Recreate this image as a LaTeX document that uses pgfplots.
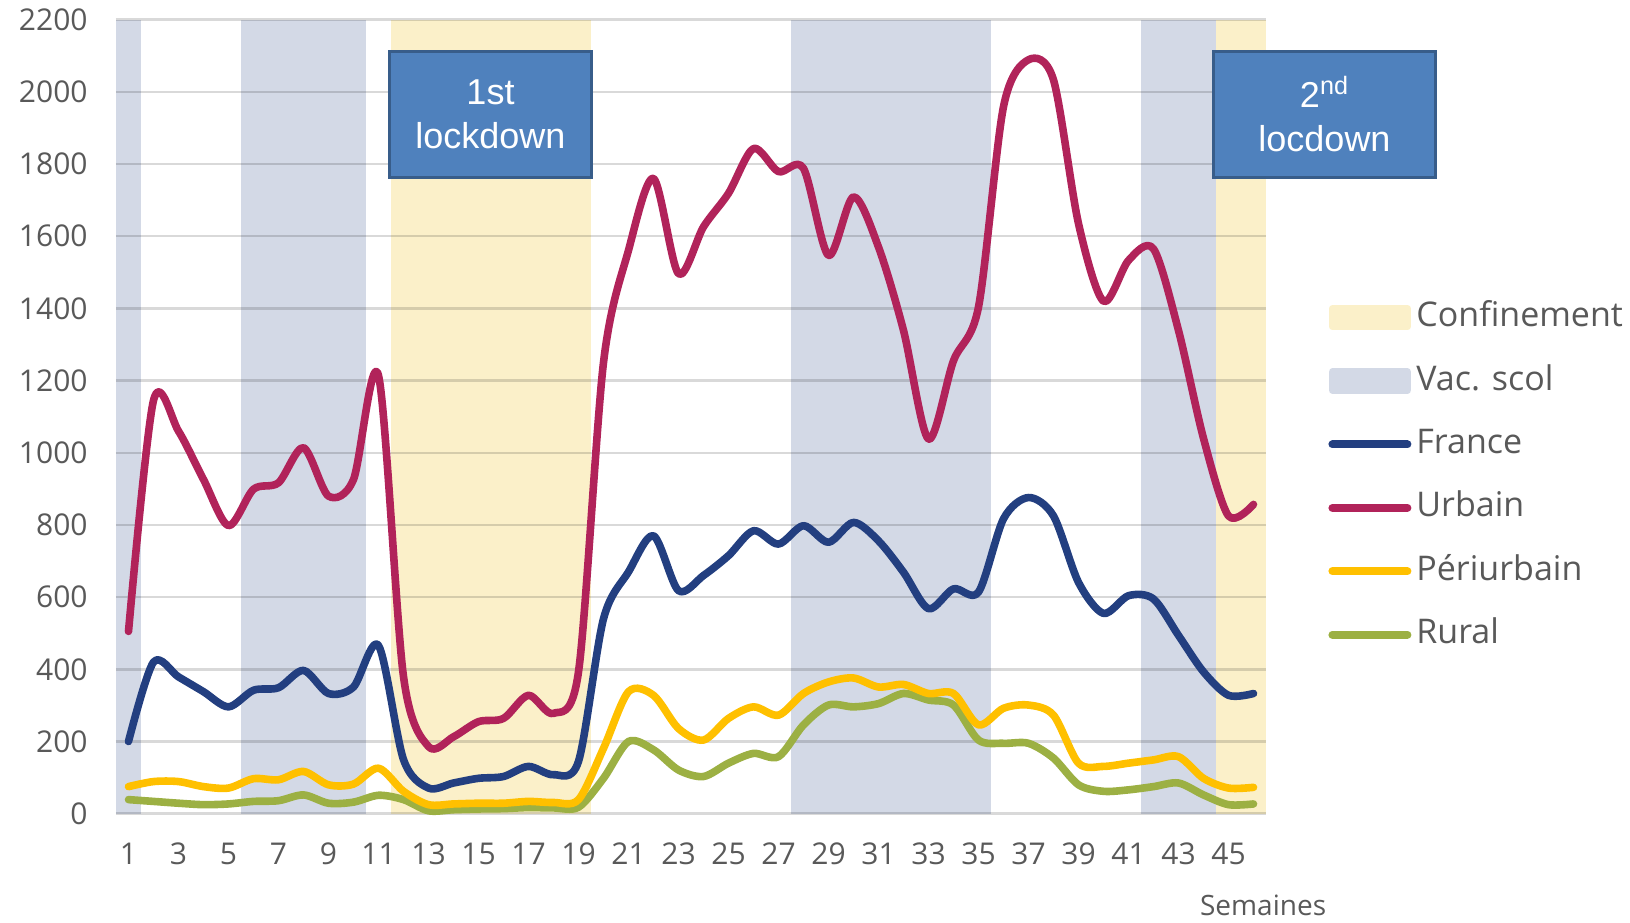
\documentclass[border=0pt]{standalone}
\usepackage{pgfplots}
\pgfplotsset{compat=1.18}
\usepackage{pgfplotstable}
\usepackage{fontspec}
\setmainfont{Open Sans}
\newfontfamily\boxfont{Liberation Sans}

\definecolor{txt}{HTML}{595959}
\definecolor{france}{HTML}{233F80}
\definecolor{urbain}{HTML}{B1235A}
\definecolor{peri}{HTML}{FFC000}
\definecolor{rural}{HTML}{9CB043}
\definecolor{conf}{HTML}{FBF0C9}
\definecolor{vac}{HTML}{D3D9E6}
\definecolor{boxfill}{HTML}{4F81BD}
\definecolor{boxline}{HTML}{385D8A}

\pgfplotstableread{
week france urbain peri rural
1 200 505 75 39
2 420 1145 89 34
3 379 1060 89 29
4 338 926 75 25
5 296 798 71 27
6 342 899 97 34
7 349 917 94 36
8 397 1014 117 52
9 333 880 80 29
10 351 926 82 32
11 466 1214 126 51
12 150 380 62 39
13 71 186 25 8
14 85 213 27 11
15 98 255 29 13
16 103 264 29 14
17 131 328 34 17
18 108 278 31 16
19 145 393 39 18
20 540 1250 181 98
21 670 1561 338 200
22 770 1760 328 177
23 618 1496 236 121
24 660 1626 204 103
25 715 1719 264 140
26 784 1843 296 167
27 747 1779 273 158
28 798 1788 333 246
29 752 1547 365 301
30 807 1709 376 296
31 756 1570 351 305
32 669 1339 358 333
33 568 1038 333 315
34 623 1255 333 301
35 614 1404 246 204
36 817 1959 292 195
37 876 2089 301 195
38 825 2033 273 154
39 641 1635 140 80
40 555 1420 131 62
41 604 1533 140 66
42 595 1565 149 75
43 494 1339 158 85
44 393 1040 98 52
45 328 825 71 25
46 333 857 73 27
}\weekly

\begin{document}
\begin{tikzpicture}
\path (-58pt,-53.5pt) rectangle (757pt,406.85pt);
\begin{axis}[
    set layers,
    at={(0,0)}, anchor=south west,
    scale only axis,
    width=575pt, height=397pt,
    xmin=0.5, xmax=46.5,
    ymin=0, ymax=2200,
    xtick={1,3,...,45},
    ytick={0,200,...,2200},
    axis line style={draw=none},
    major tick length=0pt,
    ymajorgrids,
    major grid style={black, opacity=0.15, line width=1.2pt},
    /pgf/number format/assume math mode=true,
    /pgf/number format/1000 sep={},
    ticklabel style={font=\fontsize{15}{18}\selectfont, text=txt},
    yticklabel style={inner sep=0pt, xshift=-14pt},
    xticklabel style={inner sep=0pt, yshift=-14.5pt},
    xlabel={Semaines},
    xlabel style={at={(axis description cs:0.9975,0)}, anchor=center,
                  yshift=-46pt, font=\fontsize{14}{16}\selectfont, text=txt},
    clip=false,
    legend cell align=left,
    legend style={at={(606pt,168.75pt)}, anchor=west, draw=none, fill=none,
                  inner sep=0pt, row sep=10.7pt,
                  font=\fontsize{17}{20}\selectfont, text=txt,
                  nodes={inner sep=2.5pt, text height=12.5pt, text depth=3.5pt}},
    every axis plot/.append style={smooth, tension=0.5, line width=3.8pt, line cap=round, line join=round},
]
% background bands (school holidays and lockdowns)
\addplot[fill=vac, draw=none, on layer=axis background, forget plot, sharp plot] coordinates {(0.5,2200) (1.5,2200)} \closedcycle;
\addplot[fill=vac, draw=none, on layer=axis background, forget plot, sharp plot] coordinates {(5.5,2200) (10.5,2200)} \closedcycle;
\addplot[fill=conf, draw=none, on layer=axis background, forget plot, sharp plot] coordinates {(11.5,2200) (19.5,2200)} \closedcycle;
\addplot[fill=vac, draw=none, on layer=axis background, forget plot, sharp plot] coordinates {(27.5,2200) (35.5,2200)} \closedcycle;
\addplot[fill=vac, draw=none, on layer=axis background, forget plot, sharp plot] coordinates {(41.5,2200) (44.5,2200)} \closedcycle;
\addplot[fill=conf, draw=none, on layer=axis background, forget plot, sharp plot] coordinates {(44.5,2200) (46.5,2200)} \closedcycle;

\addlegendimage{legend image code/.code={\fill[conf] (0pt,-4.5pt) rectangle (37.5pt,4.5pt);}}
\addlegendentry{Confinement}
\addlegendimage{legend image code/.code={\fill[vac] (0pt,-4.5pt) rectangle (37.5pt,4.5pt);}}
\addlegendentry{Vac. scol}
\addlegendimage{legend image code/.code={\draw[france, line width=4pt, line cap=round] (0pt,0pt) -- (37.5pt,0pt);}}
\addlegendentry{France}
\addlegendimage{legend image code/.code={\draw[urbain, line width=4pt, line cap=round] (0pt,0pt) -- (37.5pt,0pt);}}
\addlegendentry{Urbain}
\addlegendimage{legend image code/.code={\draw[peri, line width=4pt, line cap=round] (0pt,0pt) -- (37.5pt,0pt);}}
\addlegendentry{Périurbain}
\addlegendimage{legend image code/.code={\draw[rural, line width=4pt, line cap=round] (0pt,0pt) -- (37.5pt,0pt);}}
\addlegendentry{Rural}

\addplot[rural, forget plot] table[x=week, y=rural] {\weekly};
\addplot[peri, forget plot] table[x=week, y=peri] {\weekly};
\addplot[france, forget plot] table[x=week, y=france] {\weekly};
\addplot[urbain, forget plot] table[x=week, y=urbain] {\weekly};

\node[fill=boxfill, draw=boxline, line width=1.5pt, minimum width=101pt, minimum height=63pt,
      align=center, text=white, font=\boxfont\fontsize{18}{22.3}\selectfont]
      at (axis cs:15.48,1938) {1st\\lockdown};
\node[fill=boxfill, draw=boxline, line width=1.5pt, minimum width=111pt, minimum height=63pt,
      align=center, text=white, font=\boxfont\fontsize{18}{22.3}\selectfont]
      at (axis cs:48.84,1938) {2\textsuperscript{nd}\\locdown};
\end{axis}
\end{tikzpicture}
\end{document}
